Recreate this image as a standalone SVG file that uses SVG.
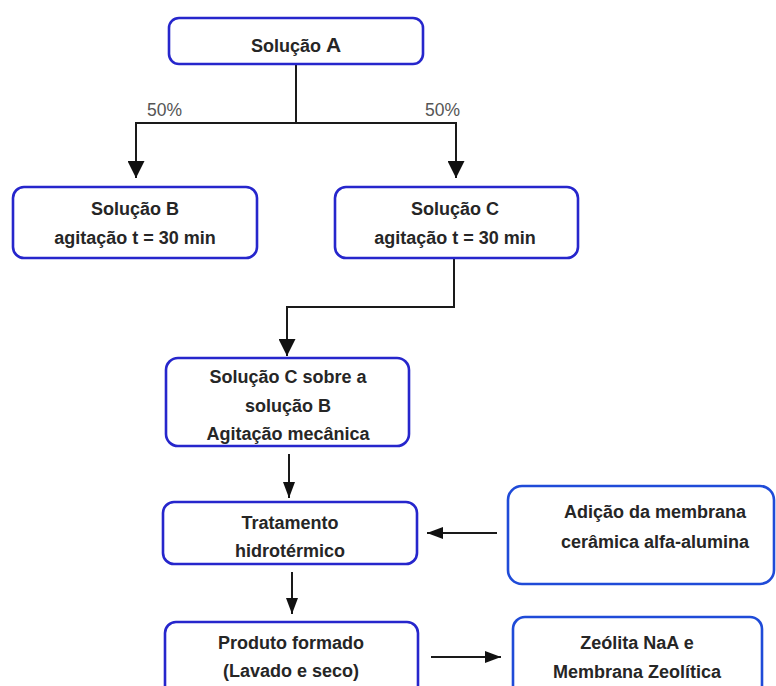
<svg xmlns="http://www.w3.org/2000/svg" width="776" height="686" viewBox="0 0 776 686">
<style>
.box{fill:#fff;stroke:#2626cc;stroke-width:2.6}
.box2{fill:#fff;stroke:#1f4bd8;stroke-width:2.6}
.t{font-family:"Liberation Sans",Arial,sans-serif;font-weight:bold;font-size:18px;fill:#262626;text-anchor:middle}
.p{font-family:"Liberation Sans",Arial,sans-serif;font-size:17.5px;fill:#555;text-anchor:start}
.c{fill:none;stroke:#1a1a1a;stroke-width:2}
</style>
<defs>
<marker id="big" markerUnits="userSpaceOnUse" markerWidth="17" markerHeight="17" refX="17" refY="8.5" orient="auto">
<path d="M0,0 L17,8.5 L0,17 z" fill="#111"/>
</marker>
<marker id="small" markerUnits="userSpaceOnUse" markerWidth="16" markerHeight="12" refX="16" refY="6" orient="auto">
<path d="M0,0 L16,6 L0,12 z" fill="#111"/>
</marker>
</defs>
<g id="connectors">
<path class="c" d="M296,64 V123"/>
<path class="c" d="M296,123 H136 V178" marker-end="url(#big)"/>
<path class="c" d="M296,123 H456 V178" marker-end="url(#big)"/>
<path class="c" d="M454,258 V307 H287 V356" marker-end="url(#big)"/>
<path class="c" d="M289,454 V498" marker-end="url(#small)"/>
<path class="c" d="M292,572 V614" marker-end="url(#small)"/>
<path class="c" d="M497,533 H427" marker-end="url(#small)"/>
<path class="c" d="M431,657 H501" marker-end="url(#small)"/>
<text class="p" x="147" y="116">50%</text>
<text class="p" x="425" y="116">50%</text>
</g>
<g id="solucaoA">
<rect class="box" x="169" y="18" width="254" height="46" rx="10"/>
<text class="t" x="296" y="52">Solução <tspan font-size="21">A</tspan></text>
</g>
<g id="solucaoB">
<rect class="box" x="13" y="187" width="244" height="71" rx="11"/>
<text class="t" x="135" y="215">Solução B</text>
<text class="t" x="135" y="244">agitação t = 30 min</text>
</g>
<g id="solucaoC">
<rect class="box" x="335" y="187" width="243" height="71" rx="11"/>
<text class="t" x="455" y="215">Solução C</text>
<text class="t" x="455" y="244">agitação t = 30 min</text>
</g>
<g id="mistura">
<rect class="box" x="166" y="358" width="243" height="88" rx="12"/>
<text class="t" x="288" y="383">Solução C sobre a</text>
<text class="t" x="288" y="412">solução B</text>
<text class="t" x="288" y="440">Agitação mecânica</text>
</g>
<g id="tratamento">
<rect class="box" x="163" y="502" width="254" height="62" rx="11"/>
<text class="t" x="290" y="529">Tratamento</text>
<text class="t" x="290" y="557">hidrotérmico</text>
</g>
<g id="produto">
<rect class="box" x="165" y="622" width="253" height="90" rx="11"/>
<text class="t" x="291" y="649">Produto formado</text>
<text class="t" x="291" y="677">(Lavado e seco)</text>
</g>
<g id="adicao">
<rect class="box2" x="508" y="486" width="266" height="98" rx="14"/>
<text class="t" x="655" y="518">Adição da membrana</text>
<text class="t" x="655" y="548">cerâmica alfa-alumina</text>
</g>
<g id="zeolita">
<rect class="box2" x="513" y="617" width="249" height="90" rx="12"/>
<text class="t" x="637" y="649">Zeólita NaA e</text>
<text class="t" x="637" y="678">Membrana Zeolítica</text>
</g>
</svg>
